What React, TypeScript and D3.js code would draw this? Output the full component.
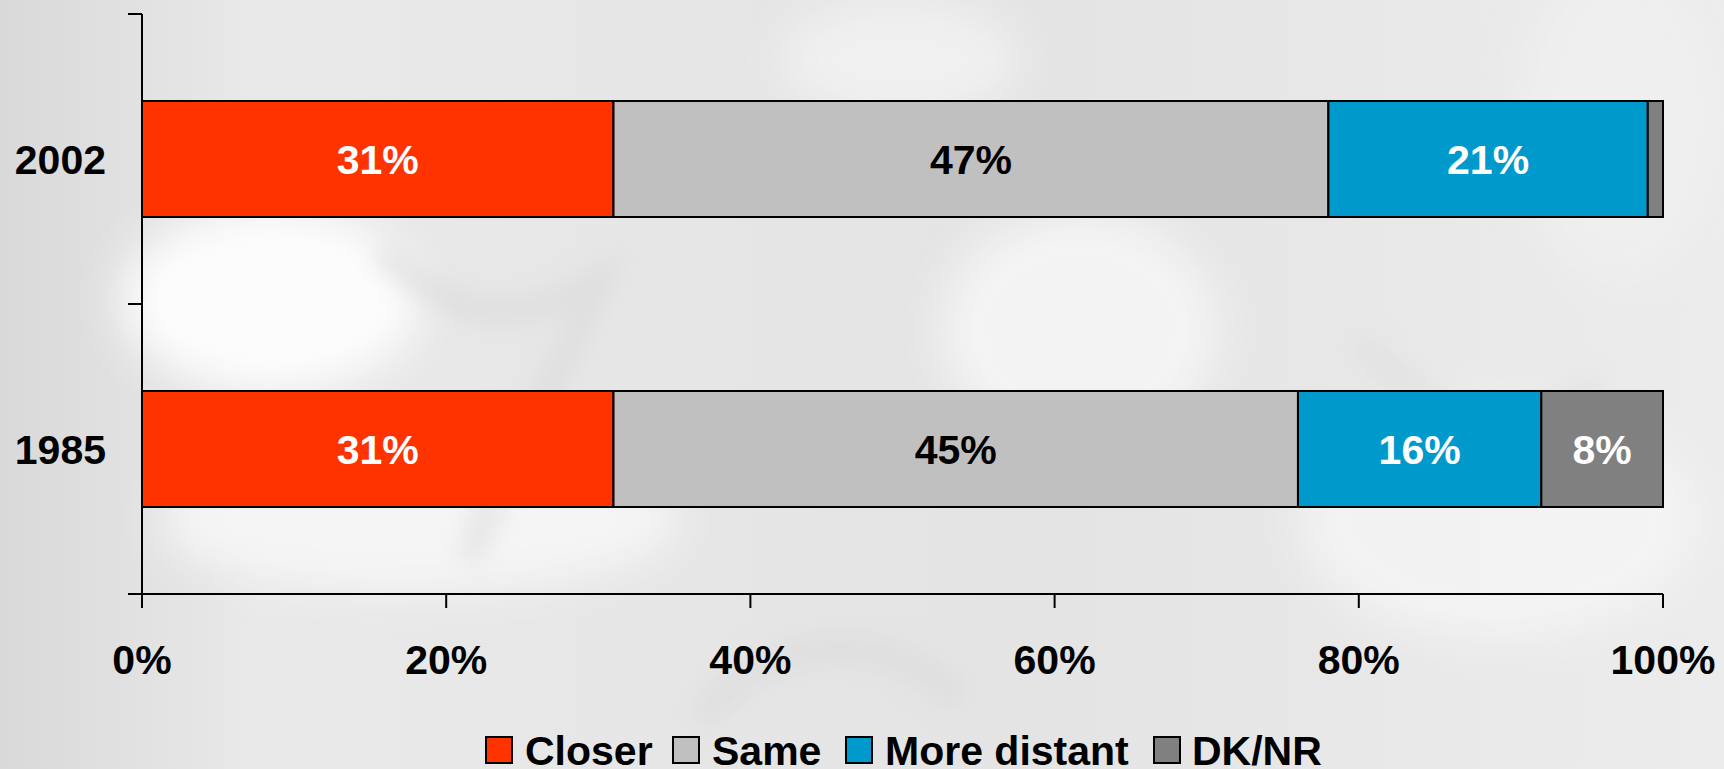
import React from "react";
import * as d3 from "d3";

const years = ["2002", "1985"];
const seriesNames = ["Closer", "Same", "More distant", "DK/NR"];
const closer = [31, 31];
const same = [47, 45];
const moreDistant = [21, 16];
const dknr = [1, 8];
const seriesColors = ["#FF3300", "#C0C0C0", "#0099CC", "#808080"];
const labelColors = ["#FFFFFF", "#000000", "#FFFFFF", "#FFFFFF"];
const xTicks = [0, 20, 40, 60, 80, 100];

const W = 1724;
const H = 769;
const FONT = "'Liberation Sans', Arial, Helvetica, sans-serif";

export default function App() {
  const rows = years.map((y, i) => ({
    year: y,
    Closer: closer[i],
    Same: same[i],
    "More distant": moreDistant[i],
    "DK/NR": dknr[i],
  }));
  const stack = d3.stack<any>().keys(seriesNames);
  const layers = stack(rows);

  const x = d3.scaleLinear().domain([0, 100]).range([142, 1663]);
  const yBand = d3.scaleBand().domain(years).range([14, 594]).paddingInner(0).paddingOuter(0);
  const barH = 116;

  const legendItems = [
    { name: "Closer", sq: 486, tx: 525 },
    { name: "Same", sq: 673, tx: 712 },
    { name: "More distant", sq: 846, tx: 885 },
    { name: "DK/NR", sq: 1154, tx: 1192 },
  ];

  return (
    <div style={{ position: "fixed", left: 0, top: 0, width: W, height: H }}>
      <svg width={W} height={H} style={{ display: "block" }}>
        <defs>
          <linearGradient id="bgGrad" x1="0" y1="0" x2="1" y2="0">
            <stop offset="0" stopColor="#d9d9d9" />
            <stop offset="0.15" stopColor="#e9e9e9" />
            <stop offset="0.6" stopColor="#e4e4e4" />
            <stop offset="1" stopColor="#ececec" />
          </linearGradient>
          <filter id="blur" x="-50%" y="-50%" width="200%" height="200%">
            <feGaussianBlur stdDeviation="22" />
          </filter>
          <filter id="blurS" x="-50%" y="-50%" width="200%" height="200%">
            <feGaussianBlur stdDeviation="12" />
          </filter>
        </defs>
        <rect x={0} y={0} width={W} height={H} fill="url(#bgGrad)" />
        <g filter="url(#blur)" opacity={0.9}>
          <ellipse cx={270} cy={300} rx={150} ry={90} fill="#ffffff" />
          <ellipse cx={420} cy={520} rx={260} ry={70} fill="#f7f7f7" />
          <ellipse cx={1080} cy={330} rx={140} ry={120} fill="#f5f5f5" />
          <ellipse cx={1500} cy={520} rx={200} ry={120} fill="#f4f4f4" />
          <ellipse cx={900} cy={60} rx={120} ry={60} fill="#f2f2f2" />
          <ellipse cx={1620} cy={120} rx={100} ry={160} fill="#f0f0f0" />
        </g>
        <g filter="url(#blurS)" opacity={0.5}>
          <path d="M380,250 C450,320 520,330 600,280 C560,380 500,460 470,560" stroke="#d6d6d6" strokeWidth={26} fill="none" />
          <path d="M700,720 C760,640 880,620 960,700" stroke="#d8d8d8" strokeWidth={30} fill="none" />
          <path d="M1360,340 C1420,420 1520,440 1600,380" stroke="#dadada" strokeWidth={22} fill="none" />
        </g>

        {layers.map((layer, si) => (
          <g key={seriesNames[si]}>
            {layer.map((d: any) => {
              const yy = (yBand(d.data.year) as number) + yBand.bandwidth() / 2 - barH / 2;
              const x0 = x(d[0]);
              const x1 = x(d[1]);
              const val = d[1] - d[0];
              return (
                <g key={d.data.year}>
                  <rect x={x0} y={yy} width={x1 - x0} height={barH} fill={seriesColors[si]} stroke="#000" strokeWidth={2} />
                  {val >= 5 && (
                    <text
                      x={(x0 + x1) / 2}
                      y={yy + barH / 2 + 15}
                      textAnchor="middle"
                      fontFamily={FONT}
                      fontWeight="bold"
                      fontSize={41}
                      fill={labelColors[si]}
                    >
                      {val}%
                    </text>
                  )}
                </g>
              );
            })}
          </g>
        ))}

        {/* y axis */}
        <line x1={142} x2={142} y1={14} y2={594} stroke="#000" strokeWidth={2} />
        {[14, ...years.map((y) => (yBand(y) as number) + yBand.bandwidth())].map((t, i) => (
          <line key={i} x1={128} x2={142} y1={t} y2={t} stroke="#000" strokeWidth={2} />
        ))}
        {years.map((y) => (
          <text
            key={y}
            x={106}
            y={(yBand(y) as number) + yBand.bandwidth() / 2 + 15}
            textAnchor="end"
            fontFamily={FONT}
            fontWeight="bold"
            fontSize={41}
            fill="#000"
          >
            {y}
          </text>
        ))}

        {/* x axis */}
        <line x1={128} x2={1663} y1={594} y2={594} stroke="#000" strokeWidth={2} />
        {xTicks.map((t) => (
          <g key={t}>
            <line x1={x(t)} x2={x(t)} y1={594} y2={608} stroke="#000" strokeWidth={2} />
            <text x={x(t)} y={674} textAnchor="middle" fontFamily={FONT} fontWeight="bold" fontSize={41} fill="#000">
              {t}%
            </text>
          </g>
        ))}

        {/* legend */}
        {legendItems.map((it, i) => (
          <g key={it.name}>
            <rect x={it.sq} y={737} width={26} height={26} fill={seriesColors[i]} stroke="#000" strokeWidth={2} />
            <text x={it.tx} y={765} fontFamily={FONT} fontWeight="bold" fontSize={41} fill="#000">
              {it.name}
            </text>
          </g>
        ))}
      </svg>
    </div>
  );
}
